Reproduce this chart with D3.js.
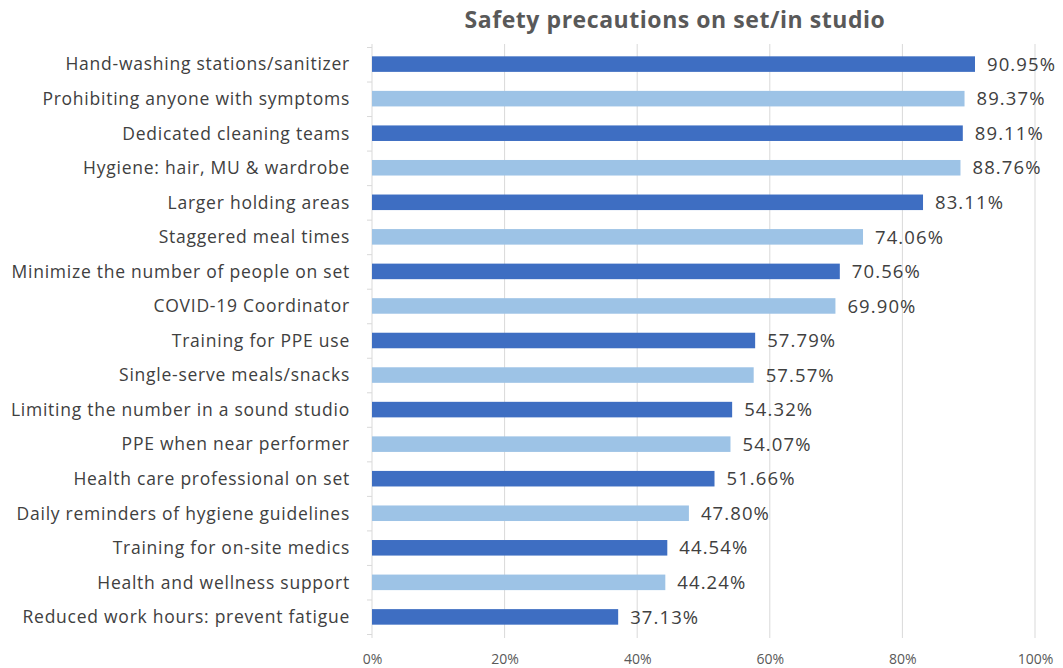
<!DOCTYPE html>
<html><head><meta charset="utf-8">
<script src="https://cdn.jsdelivr.net/npm/d3@7"></script>
<style>body{margin:0;background:#fff;} svg{display:block;}</style>
</head><body>
<svg id="c" width="1063" height="668"></svg>
<script>
const categories = ["Hand-washing stations/sanitizer","Prohibiting anyone with symptoms","Dedicated cleaning teams","Hygiene: hair, MU & wardrobe","Larger holding areas","Staggered meal times","Minimize the number of people on set","COVID-19 Coordinator","Training for PPE use","Single-serve meals/snacks","Limiting the number in a sound studio","PPE when near performer","Health care professional on set","Daily reminders of hygiene guidelines","Training for on-site medics","Health and wellness support","Reduced work hours: prevent fatigue"];
const values = [90.95,89.37,89.11,88.76,83.11,74.06,70.56,69.90,57.79,57.57,54.32,54.07,51.66,47.80,44.54,44.24,37.13];
const tickValues = [0,20,40,60,80,100];
const title = "Safety precautions on set/in studio";

const svg = d3.select("#c");
const font = "'Open Sans', 'Noto Sans', sans-serif";
const x = d3.scaleLinear().domain([0,100]).range([372,1035]);
const y = d3.scaleBand().domain(categories).range([47,634]).paddingInner(0.55).paddingOuter(0.27);

// gridlines
svg.append("g").selectAll("line").data(tickValues.slice(1)).join("line")
  .attr("x1",d=>x(d)).attr("x2",d=>x(d)).attr("y1",44).attr("y2",638)
  .attr("stroke","#d9d9d9").attr("stroke-width",1);

// left axis line with ticks
const yAxis = d3.axisLeft(d3.scaleLinear().domain([0,categories.length]).range([47,634]))
  .ticks(categories.length).tickSize(5).tickFormat("");
const ga = svg.append("g").attr("transform","translate(372,0)").call(yAxis);
ga.selectAll("path,line").attr("stroke","#d9d9d9");
ga.select(".domain").attr("d","M0,44V638");

// bars
svg.append("g").selectAll("rect").data(values).join("rect")
  .attr("x",x(0)).attr("y",(d,i)=>y(categories[i]))
  .attr("width",d=>x(d)-x(0)).attr("height",y.bandwidth())
  .attr("fill",(d,i)=>i%2===0?"#3e6ec2":"#9dc3e6");

// value labels
svg.append("g").selectAll("text").data(values).join("text")
  .attr("x",d=>x(d)+12).attr("y",(d,i)=>y(categories[i])+y.bandwidth()/2)
  .attr("dy","0.36em").attr("font-family",font).attr("font-size",18.5)
  .attr("letter-spacing",1.1)
  .attr("fill","#404040").text(d=>d.toFixed(2)+"%");

// category labels
svg.append("g").selectAll("text").data(categories).join("text")
  .attr("x",350).attr("y",d=>y(d)+y.bandwidth()/2).attr("dy","0.36em")
  .attr("text-anchor","end").attr("font-family",font).attr("font-size",17.5)
  .attr("letter-spacing",0.75)
  .attr("fill","#404040").text(d=>d);

// x tick labels
const xAxis = d3.axisBottom(x).tickValues(tickValues).tickSize(0).tickFormat(d=>d+"%");
const gx = svg.append("g").attr("transform","translate(0,651)").call(xAxis);
gx.select(".domain").remove();
gx.selectAll("text").attr("font-family",font).attr("font-size",14).attr("fill","#595959");

// title
svg.append("text").attr("x",675).attr("y",28).attr("text-anchor","middle")
  .attr("font-family",font).attr("font-size",23).attr("font-weight","bold")
  .attr("letter-spacing",0.55)
  .attr("fill","#595959").text(title);
</script>
</body></html>
